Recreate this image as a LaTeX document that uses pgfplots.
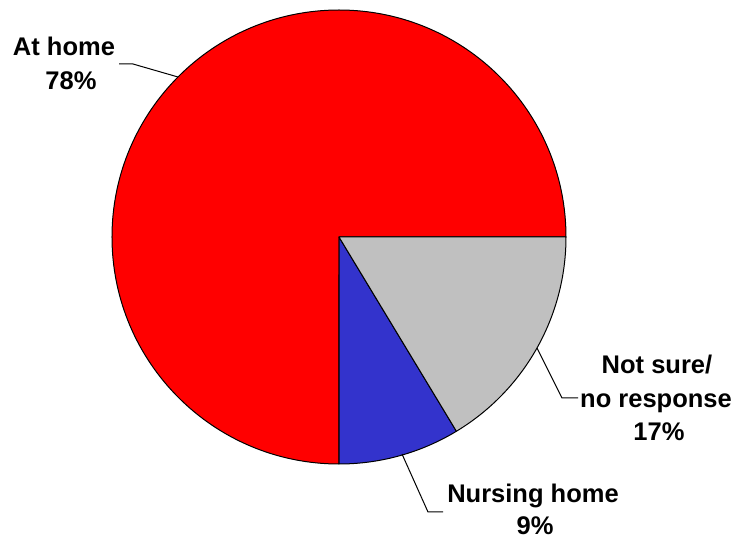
\documentclass[border=0pt]{standalone}
\usepackage{pgfplots}
\pgfplotsset{compat=1.18}
\usepackage{pgfplotstable}
\usepackage{fontspec}
\setmainfont{Liberation Sans}
\pgfplotstableread{
label value
athome 78
nursing 9
notsure 17
}\piedata
\definecolor{pred}{HTML}{FF0000}
\definecolor{pblue}{HTML}{3333CC}
\definecolor{pgray}{HTML}{C0C0C0}
\begin{document}
\begin{tikzpicture}
\pgfplotstablegetelem{0}{value}\of\piedata \let\va\pgfplotsretval
\pgfplotstablegetelem{1}{value}\of\piedata \let\vb\pgfplotsretval
\pgfplotstablegetelem{2}{value}\of\piedata \let\vc\pgfplotsretval
\pgfmathsetmacro{\tot}{\va+\vb+\vc}
\pgfmathsetmacro{\aA}{0}
\pgfmathsetmacro{\aB}{\aA+360*(\va/\tot)}
\pgfmathsetmacro{\aC}{\aB+360*(\vb/\tot)}
\pgfmathsetmacro{\aD}{360}
\begin{axis}[x=1bp,y=1bp,xmin=0,xmax=733,ymin=0,ymax=539,
  axis lines=none, scale only axis, clip=false, anchor=origin, at={(0,0)}]
\def\cx{339}\def\cy{302}\def\rr{227}
\fill[pred,draw=black,line width=1bp,line join=round] (axis cs:\cx,\cy) -- (axis cs:{\cx+\rr*cos(\aA)},{\cy+\rr*sin(\aA)}) arc[start angle=\aA,end angle=\aB,radius=\rr bp] -- cycle;
\fill[pblue,draw=black,line width=1bp,line join=round] (axis cs:\cx,\cy) -- (axis cs:{\cx+\rr*cos(\aB)},{\cy+\rr*sin(\aB)}) arc[start angle=\aB,end angle=\aC,radius=\rr bp] -- cycle;
\fill[pgray,draw=black,line width=1bp,line join=round] (axis cs:\cx,\cy) -- (axis cs:{\cx+\rr*cos(\aC)},{\cy+\rr*sin(\aC)}) arc[start angle=\aC,end angle=\aD,radius=\rr bp] -- cycle;
\draw[black,line width=1bp] (axis cs:119,475) -- (axis cs:133,475) -- (axis cs:178,462);
\draw[black,line width=1bp] (axis cs:537,191) -- (axis cs:562,141) -- (axis cs:578,141);
\draw[black,line width=1bp] (axis cs:402,85) -- (axis cs:428,27) -- (axis cs:443,27);
\tikzset{lab/.style={anchor=base,inner sep=0pt,font=\fontsize{25.5bp}{30bp}\selectfont\bfseries}}
\node[lab] at (axis cs:64,483) {At home};
\node[lab] at (axis cs:71,449) {78\%};
\node[lab] at (axis cs:657,166) {Not sure/};
\node[lab] at (axis cs:656,132) {no response};
\node[lab] at (axis cs:659,99) {17\%};
\node[lab] at (axis cs:533,37) {Nursing home};
\node[lab] at (axis cs:535,5) {9\%};
\end{axis}
\pgfresetboundingbox
\useasboundingbox (0,0) rectangle (733bp,539bp);
\end{tikzpicture}
\end{document}
